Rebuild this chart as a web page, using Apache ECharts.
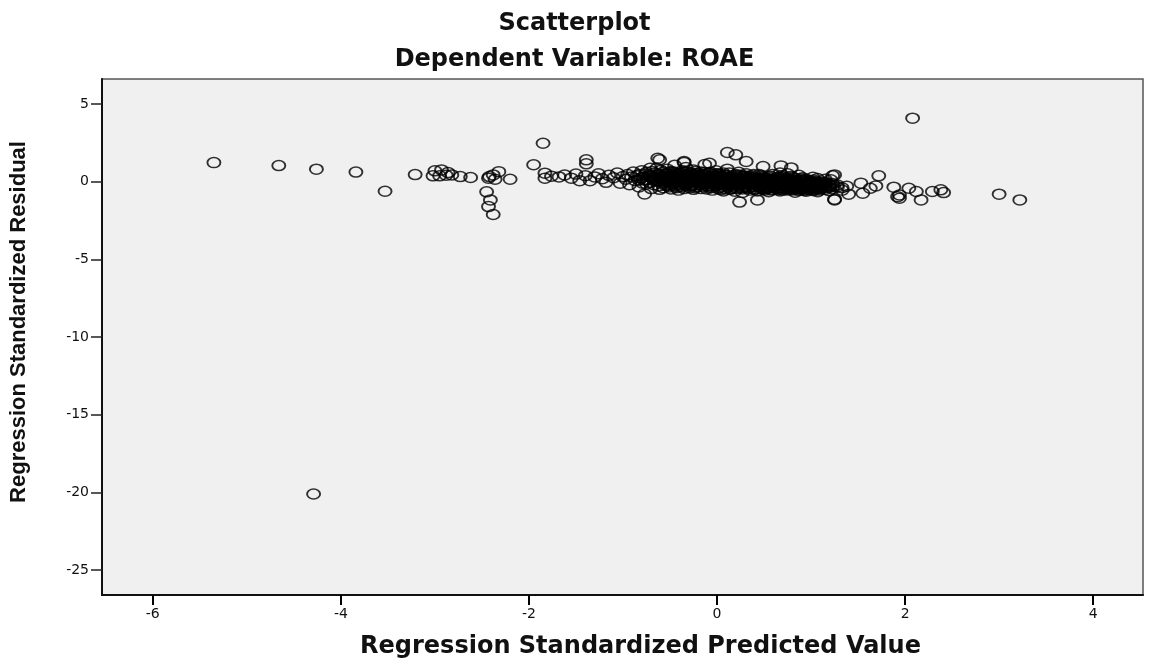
<!DOCTYPE html>
<html>
<head>
<meta charset="utf-8">
<script src="https://cdn.jsdelivr.net/npm/echarts@6/dist/echarts.min.js"></script>
<style>
  html, body { margin: 0; padding: 0; background: #fff; }
  #chart { width: 1149px; height: 664px; }
</style>
</head>
<body>
<div id="chart"></div>
<script>
// tick labels
const xTicks = [-6, -4, -2, 0, 2, 4];
const yTicks = [5, 0, -5, -10, -15, -20, -25];

// outlying points (predicted, residual)
const outliers = [
  [-5.35, 1.22], [-4.66, 1.03], [-4.26, 0.80], [-3.84, 0.61], [-3.53, -0.62],
  [-3.21, 0.45], [-3.00, 0.69], [-2.93, 0.75], [-2.86, 0.58], [-3.02, 0.37],
  [-2.95, 0.37], [-2.88, 0.41], [-2.82, 0.43], [-2.73, 0.32], [-2.62, 0.26],
  [-2.42, 0.32], [-2.38, 0.43], [-2.32, 0.64], [-2.36, 0.15], [-2.43, 0.22],
  [-2.20, 0.15], [-2.45, -0.66], [-2.41, -1.18], [-2.43, -1.61], [-2.38, -2.12],
  [-1.85, 2.47], [-1.95, 1.08], [-1.83, 0.54], [-1.83, 0.22],
  [-4.29, -20.1], [2.08, 4.08]
];

// left tail of the main cloud
const leftTail = [
  [-1.76, 0.35], [-1.68, 0.30], [-1.62, 0.42], [-1.55, 0.22], [-1.50, 0.48],
  [-1.46, 0.06], [-1.40, 0.38], [-1.39, 1.40], [-1.39, 1.14], [-1.35, 0.05],
  [-1.30, 0.30], [-1.26, 0.50], [-1.22, 0.18], [-1.18, -0.05], [-1.15, 0.40],
  [-1.10, 0.25], [-1.06, 0.55], [-1.03, -0.10], [-1.00, 0.32],
  [-0.97, 0.15], [-0.95, 0.45], [-0.93, -0.20], [-0.91, 0.30], [-0.89, 0.62],
  [-0.87, 0.05], [-0.85, 0.38], [-0.83, -0.35], [-0.81, 0.22], [-0.80, 0.70],
  [-0.78, 0.10], [-0.77, -0.80], [-0.76, 0.48], [-0.75, -0.15], [-0.73, 0.33],
  [-0.71, 0.85], [-0.70, -0.45], [-0.68, 0.20], [-0.66, 0.55], [-0.65, 0.02],
  [-0.63, 0.40], [-0.63, 1.50], [-0.62, -0.28], [-0.61, 1.40], [-0.60, 0.72],
  [-0.59, 0.12]
];

// dense core of the cloud
const core = [
  [-0.57, 0.35], [-0.57, -0.10], [-0.57, 0.62], [-0.57, 0.05], [-0.57, -0.40],
  [-0.53, 0.18], [-0.53, 0.50], [-0.53, -0.22], [-0.53, 0.80], [-0.53, 0.00],
  [-0.49, 0.42], [-0.49, -0.05], [-0.49, 0.25], [-0.49, -0.48], [-0.49, 0.65],
  [-0.45, 0.10], [-0.45, 0.55], [-0.45, -0.30], [-0.45, 0.30], [-0.45, 1.05],
  [-0.41, 0.22], [-0.41, -0.15], [-0.41, 0.48], [-0.41, 0.02], [-0.41, -0.55],
  [-0.37, 0.38], [-0.37, 0.70], [-0.37, -0.08], [-0.37, 0.15], [-0.37, -0.35],
  [-0.35, 1.22], [-0.35, 1.29],
  [-0.33, 0.05], [-0.33, 0.45], [-0.33, -0.25], [-0.33, 0.28], [-0.33, 0.90],
  [-0.29, 0.20], [-0.29, -0.40], [-0.29, 0.58], [-0.29, -0.02], [-0.29, 0.35],
  [-0.25, 0.12], [-0.25, 0.40], [-0.25, -0.18], [-0.25, -0.50], [-0.25, 0.75],
  [-0.21, 0.30], [-0.21, -0.05], [-0.21, 0.52], [-0.21, 0.08], [-0.21, -0.32],
  [-0.17, 0.00], [-0.17, 0.25], [-0.17, -0.45], [-0.17, 0.62], [-0.17, 0.18],
  [-0.13, 0.15], [-0.13, -0.22], [-0.13, 0.40], [-0.13, -0.08], [-0.13, 1.10],
  [-0.09, 0.32], [-0.09, -0.35], [-0.09, 0.05], [-0.09, 0.55], [-0.09, -0.15],
  [-0.08, 1.18],
  [-0.05, -0.05], [-0.05, 0.22], [-0.05, -0.55], [-0.05, 0.42], [-0.05, 0.10],
  [-0.01, 0.08], [-0.01, -0.28], [-0.01, 0.35], [-0.01, -0.12], [-0.01, 0.70],
  [0.03, -0.10], [0.03, 0.18], [0.03, -0.40], [0.03, 0.45], [0.03, 0.00],
  [0.07, 0.12], [0.07, -0.22], [0.07, 0.30], [0.07, -0.60], [0.07, 0.55],
  [0.11, -0.05], [0.11, 0.25], [0.11, -0.35], [0.11, 0.05], [0.11, 0.80],
  [0.11, 1.87], [0.20, 1.72], [0.31, 1.29],
  [0.15, 0.02], [0.15, -0.45], [0.15, 0.35], [0.15, -0.15], [0.15, 0.18],
  [0.19, -0.20], [0.19, 0.10], [0.19, -0.62], [0.19, 0.40], [0.19, -0.02],
  [0.23, 0.05], [0.23, -0.30], [0.23, 0.22], [0.23, -0.10], [0.23, 0.60],
  [0.24, -1.32],
  [0.27, -0.15], [0.27, 0.15], [0.27, -0.48], [0.27, 0.32], [0.27, -0.70],
  [0.31, -0.05], [0.31, 0.25], [0.31, -0.32], [0.31, 0.05], [0.31, 0.50],
  [0.35, -0.22], [0.35, 0.08], [0.35, -0.55], [0.35, 0.28], [0.35, -0.10],
  [0.39, 0.00], [0.39, -0.35], [0.39, 0.18], [0.39, -0.18], [0.39, 0.45],
  [0.43, -0.28], [0.43, 0.05], [0.43, -0.60], [0.43, 0.25], [0.43, -0.05],
  [0.43, -1.18], [0.49, 0.97],
  [0.47, -0.12], [0.47, 0.15], [0.47, -0.42], [0.47, 0.38], [0.47, -0.25],
  [0.51, -0.32], [0.51, -0.02], [0.51, 0.22], [0.51, -0.55], [0.51, 0.10],
  [0.55, -0.18], [0.55, 0.08], [0.55, -0.40], [0.55, 0.30], [0.55, -0.65],
  [0.59, -0.05], [0.59, -0.30], [0.59, 0.15], [0.59, -0.50], [0.59, 0.45],
  [0.63, -0.25], [0.63, 0.02], [0.63, -0.45], [0.63, 0.20], [0.63, -0.12],
  [0.67, -0.38], [0.67, -0.08], [0.67, 0.25], [0.67, -0.60], [0.67, 0.55],
  [0.68, 1.01],
  [0.71, -0.20], [0.71, 0.05], [0.71, -0.42], [0.71, 0.30], [0.71, -0.02],
  [0.75, -0.30], [0.75, -0.10], [0.75, 0.12], [0.75, -0.55], [0.75, 0.50],
  [0.79, -0.45], [0.79, -0.18], [0.79, 0.08], [0.79, -0.32], [0.79, 0.35],
  [0.79, 0.88],
  [0.83, -0.25], [0.83, -0.02], [0.83, -0.50], [0.83, 0.20], [0.83, -0.68],
  [0.87, -0.35], [0.87, -0.12], [0.87, 0.10], [0.87, -0.58], [0.87, 0.40],
  [0.91, -0.20], [0.91, -0.42], [0.91, 0.02], [0.91, -0.30], [0.91, 0.25],
  [0.95, -0.48], [0.95, -0.15], [0.95, -0.32], [0.95, 0.15], [0.95, -0.62],
  [0.99, -0.28], [0.99, -0.05], [0.99, -0.45], [0.99, 0.05], [0.99, -0.18],
  [1.03, -0.38], [1.03, -0.12], [1.03, -0.55], [1.03, 0.10], [1.03, -0.25],
  [1.07, -0.30], [1.07, -0.48], [1.07, -0.08], [1.07, -0.65], [1.07, 0.20],
  [1.11, -0.42], [1.11, -0.20], [1.11, -0.02], [1.11, -0.35],
  [1.15, -0.28], [1.15, -0.50], [1.15, -0.10], [1.15, 0.15],
  [1.19, -0.38], [1.19, -0.18], [1.19, -0.58],
  [1.23, -0.30], [1.23, -0.45], [1.23, -0.12], [1.25, 0.43], [1.25, -1.18],
  [1.28, -0.35], [1.28, -0.22], [1.33, -0.40], [1.33, -0.55], [1.38, -0.30]
];

// more points filling the black middle of the cloud
const coreFill = [
  [-0.83, 0.45], [-0.83, 0.10], [-0.79, 0.28], [-0.79, -0.10], [-0.75, 0.60],
  [-0.75, 0.15], [-0.72, -0.05], [-0.72, 0.40], [-0.69, 0.65], [-0.69, 0.25],
  [-0.67, -0.20], [-0.67, 0.08], [-0.64, 0.30], [-0.64, 0.85], [-0.61, 0.18],
  [-0.61, -0.50],
  [-0.55, 0.28], [-0.55, -0.25], [-0.55, 0.45], [-0.51, 0.10], [-0.51, 0.60],
  [-0.51, -0.35], [-0.47, 0.35], [-0.47, -0.12], [-0.47, 0.15], [-0.43, 0.45],
  [-0.43, -0.40], [-0.43, 0.20], [-0.39, 0.05], [-0.39, 0.55], [-0.39, -0.20],
  [-0.35, 0.25], [-0.35, -0.45], [-0.35, 0.60], [-0.31, 0.15], [-0.31, -0.10],
  [-0.31, 0.40], [-0.27, 0.50], [-0.27, -0.28], [-0.27, 0.02], [-0.23, 0.20],
  [-0.23, 0.65], [-0.23, -0.40], [-0.19, -0.15], [-0.19, 0.35], [-0.19, 0.10],
  [-0.15, 0.45], [-0.15, -0.32], [-0.15, 0.05], [-0.11, 0.25], [-0.11, -0.05],
  [-0.11, -0.48], [-0.07, 0.15], [-0.07, 0.60], [-0.07, -0.25], [-0.03, 0.30],
  [-0.03, -0.15], [-0.03, 0.02], [0.01, 0.20], [0.01, -0.45], [0.01, 0.50],
  [0.05, -0.30], [0.05, 0.08], [0.05, 0.35], [0.09, 0.40], [0.09, -0.12],
  [0.09, -0.48], [0.13, 0.15], [0.13, -0.25], [0.13, 0.55], [0.17, -0.35],
  [0.17, 0.25], [0.17, -0.08], [0.21, 0.30], [0.21, -0.45], [0.21, 0.12],
  [0.25, -0.22], [0.25, 0.40], [0.25, -0.05], [0.29, 0.10], [0.29, -0.38],
  [0.29, 0.35], [0.33, -0.15], [0.33, 0.20], [0.33, -0.45], [0.37, 0.12],
  [0.37, -0.30], [0.37, 0.38], [0.41, -0.12], [0.41, -0.48], [0.41, 0.15],
  [0.45, 0.05], [0.45, -0.35], [0.45, 0.45], [0.49, -0.20], [0.49, 0.28],
  [0.49, -0.50], [0.53, -0.10], [0.53, -0.42], [0.53, 0.18], [0.57, 0.05],
  [0.57, -0.28], [0.57, 0.35], [0.61, -0.40], [0.61, -0.15], [0.61, 0.10],
  [0.65, -0.05], [0.65, -0.52], [0.65, 0.28], [0.69, -0.25], [0.69, 0.15],
  [0.69, -0.48], [0.73, 0.00], [0.73, -0.35], [0.73, 0.20], [0.77, -0.22],
  [0.77, -0.48], [0.77, 0.05], [0.81, -0.10], [0.81, -0.38], [0.81, 0.25],
  [0.85, -0.45], [0.85, -0.18], [0.85, 0.05], [0.89, -0.25], [0.89, 0.18],
  [0.89, -0.50], [0.93, -0.10], [0.93, -0.35], [0.93, -0.58], [0.97, -0.22],
  [0.97, 0.02], [0.97, -0.40], [1.01, -0.32], [1.01, -0.08], [1.01, -0.50],
  [1.05, -0.18], [1.05, -0.42], [1.05, 0.00], [1.09, -0.25], [1.09, -0.55],
  [1.13, -0.15], [1.13, -0.40]
];

const coreFill2 = [
  [-0.70, 0.35], [-0.66, 0.12], [-0.62, 0.48], [-0.58, 0.22], [-0.56, -0.05],
  [-0.52, 0.38], [-0.50, 0.15], [-0.48, -0.22], [-0.46, 0.62], [-0.44, 0.00],
  [-0.42, 0.32], [-0.40, -0.30], [-0.38, 0.50], [-0.36, 0.08], [-0.34, -0.15],
  [-0.32, 0.62], [-0.30, 0.10], [-0.28, -0.25], [-0.26, 0.30], [-0.24, 0.00],
  [-0.22, 0.48], [-0.20, -0.20], [-0.18, 0.40], [-0.16, -0.08], [-0.14, 0.58],
  [-0.12, 0.05], [-0.10, -0.28], [-0.08, 0.35], [-0.06, -0.40], [-0.04, 0.12],
  [-0.02, 0.50], [0.00, -0.20], [0.02, 0.28], [0.04, -0.52], [0.06, 0.02],
  [0.08, 0.42], [0.10, -0.18], [0.12, 0.30], [0.14, -0.50], [0.16, 0.08],
  [0.18, -0.28], [0.20, 0.45], [0.22, -0.12], [0.24, 0.20], [0.26, -0.40],
  [0.28, 0.00], [0.30, -0.22], [0.32, 0.35], [0.34, -0.38], [0.36, -0.02],
  [0.38, 0.25], [0.40, -0.50], [0.42, -0.15], [0.44, 0.15], [0.46, -0.30],
  [0.48, 0.05], [0.50, -0.45], [0.52, 0.25], [0.54, -0.22], [0.56, -0.02],
  [0.58, -0.55], [0.60, 0.18], [0.62, -0.32], [0.64, 0.05], [0.66, -0.18],
  [0.68, 0.35], [0.70, -0.55], [0.72, -0.10], [0.74, 0.15], [0.76, -0.38],
  [0.78, -0.02], [0.80, -0.55], [0.82, 0.12], [0.84, -0.30], [0.86, -0.05],
  [0.88, -0.40], [0.90, 0.10], [0.92, -0.25], [0.94, -0.05], [0.96, -0.50],
  [0.98, -0.12], [1.00, -0.35], [1.02, -0.58], [1.04, -0.05], [1.06, -0.30],
  [1.08, -0.15], [1.10, -0.48], [1.12, -0.28], [1.14, -0.05], [1.17, -0.35],
  [1.20, -0.25]
];

// right tail of the cloud
const rightTail = [
  [1.02, 0.28], [1.21, 0.11], [1.23, 0.37], [1.25, -1.13], [1.40, -0.81],
  [1.53, -0.10], [1.55, -0.75], [1.63, -0.43], [1.69, -0.28], [1.72, 0.37],
  [1.88, -0.36], [1.92, -0.97], [1.94, -0.86], [1.94, -1.07], [2.04, -0.43],
  [2.12, -0.64], [2.17, -1.18], [2.29, -0.64], [2.38, -0.53], [2.41, -0.71],
  [3.00, -0.81], [3.22, -1.18]
];

const points = outliers.concat(leftTail, core, coreFill, coreFill2, rightTail);

const chart = echarts.init(document.getElementById('chart'));
const labelFont = { fontFamily: 'DejaVu Sans, Verdana, sans-serif', fontSize: 14, color: '#111' };
const titleFont = { fontFamily: 'DejaVu Sans, Verdana, sans-serif', fontSize: 24, fontWeight: 'bold', color: '#111' };

chart.setOption({
  backgroundColor: '#fff',
  animation: false,
  title: [
    { text: 'Scatterplot', left: 'center', top: 7, textStyle: titleFont },
    { text: 'Dependent Variable: ROAE', left: 'center', top: 43, textStyle: titleFont }
  ],
  grid: {
    left: 100,
    right: 6,
    top: 79,
    bottom: 69,
    show: true,
    backgroundColor: '#f0f0f0',
    borderColor: '#555',
    borderWidth: 1.5
  },
  xAxis: {
    type: 'value',
    min: -6.54,
    max: 4.53,
    name: 'Regression Standardized Predicted Value',
    nameLocation: 'middle',
    nameGap: 40,
    nameTextStyle: {
      fontFamily: 'DejaVu Sans, Verdana, sans-serif',
      fontSize: 24,
      fontWeight: 'bold',
      color: '#111',
      padding: [0, 0, 0, 36]
    },
    axisLine: { onZero: false, lineStyle: { color: '#111', width: 2 } },
    axisTick: { show: true, inside: false, length: 10, lineStyle: { color: '#000', width: 2 }, customValues: xTicks },
    axisLabel: Object.assign({ margin: 12, customValues: xTicks }, labelFont),
    splitLine: { show: false }
  },
  yAxis: {
    type: 'value',
    min: -26.6,
    max: 6.6,
    name: 'Regression Standardized Residual',
    nameLocation: 'middle',
    nameGap: 72,
    nameTextStyle: {
      fontFamily: 'Liberation Sans, Arial, sans-serif',
      fontSize: 22,
      fontWeight: 'bold',
      color: '#111',
      padding: [0, 0, 0, 30]
    },
    axisLine: { onZero: false, lineStyle: { color: '#111', width: 2 } },
    axisTick: { show: true, inside: false, length: 11, lineStyle: { color: '#222', width: 1.5 }, customValues: yTicks },
    axisLabel: Object.assign({ margin: 13, customValues: yTicks }, labelFont),
    splitLine: { show: false }
  },
  series: [
    {
      type: 'scatter',
      data: points,
      symbol: 'circle',
      symbolSize: [13, 10],
      itemStyle: { color: 'rgba(0,0,0,0)', borderColor: '#000', borderWidth: 1.7 }
    }
  ]
});
</script>
</body>
</html>
